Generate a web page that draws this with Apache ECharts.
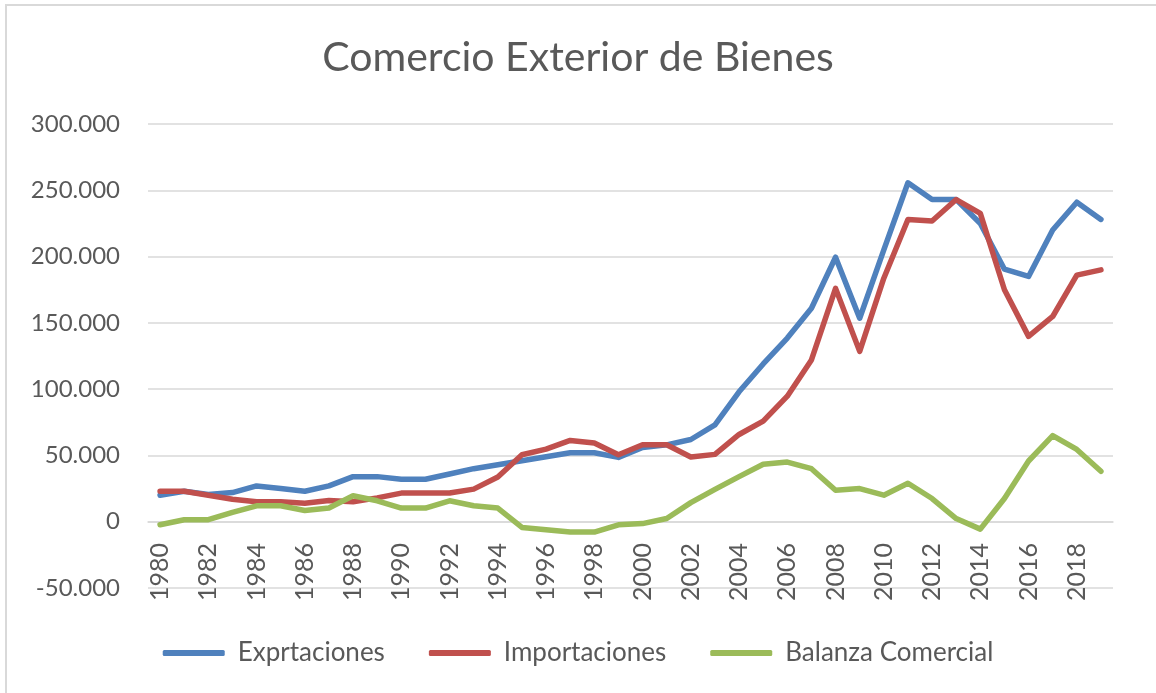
<!DOCTYPE html>
<html>
<head>
<meta charset="utf-8">
<script src="https://cdn.jsdelivr.net/npm/echarts@6/dist/echarts.min.js"></script>
<style>
  html, body { margin: 0; padding: 0; background: #fff; }
  #chart { width: 1156px; height: 693px; }
</style>
</head>
<body>
<div id="chart"></div>
<script>
// años (categorías)
var years = ['1980','1981','1982','1983','1984','1985','1986','1987','1988','1989',
  '1990','1991','1992','1993','1994','1995','1996','1997','1998','1999',
  '2000','2001','2002','2003','2004','2005','2006','2007','2008','2009',
  '2010','2011','2012','2013','2014','2015','2016','2017','2018','2019'];

var exportaciones = [20000, 23000, 20500, 22000, 27000, 25000, 23000, 27000, 34000, 34000,
  32000, 32000, 36000, 40000, 43000, 46000, 49000, 52000, 52000, 48500,
  56000, 58000, 62000, 73000, 98000, 119000, 138500, 161000, 199500, 153500,
  205000, 255700, 243000, 243000, 225000, 190500, 185000, 220000, 241000, 228000];

var importaciones = [23000, 23000, 20000, 17000, 15000, 15000, 14000, 16000, 15000, 18000,
  21600, 21600, 21600, 24600, 33700, 50500, 54800, 61300, 59300, 50500,
  58000, 58000, 48800, 50800, 65800, 75900, 94700, 122000, 176000, 128500,
  183700, 228000, 226800, 243000, 232600, 175000, 139800, 154800, 186000, 190000];

var balanza = [-2300, 1500, 1500, 7000, 12000, 12000, 8500, 10300, 19600, 15800,
  10300, 10300, 15800, 12000, 10300, -4300, -6000, -7800, -7800, -2300,
  -1400, 2400, 14400, 24400, 34000, 43300, 45000, 40000, 23700, 25000,
  20000, 29000, 17500, 2400, -5600, 17500, 45800, 65000, 54500, 38000];

var fontFam = 'Lato, "Open Sans", sans-serif';
var txtColor = '#595959';

var chart = echarts.init(document.getElementById('chart'));

function serie(name, data, color) {
  return {
    name: name,
    type: 'line',
    data: data,
    symbol: 'none',
    smooth: false,
    lineStyle: { width: 5.5, color: color, cap: 'round', join: 'round' },
    itemStyle: { color: color }
  };
}

var option = {
  animation: false,
  backgroundColor: '#fff',
  title: {
    text: 'Comercio Exterior de Bienes',
    left: 'center',
    top: 32,
    textStyle: { fontFamily: fontFam, fontSize: 41, fontWeight: 'normal', color: txtColor }
  },
  // borde del área del gráfico
  graphic: [{
    type: 'rect',
    shape: { x: 6, y: 5, width: 1170, height: 710 },
    style: { fill: 'none', stroke: '#d9d9d9', lineWidth: 2 },
    silent: true
  }],
  legend: {
    bottom: 22,
    left: 'center',
    itemWidth: 62,
    itemHeight: 6,
    itemGap: 44,
    icon: 'roundRect',
    textStyle: { fontFamily: fontFam, fontSize: 26, color: txtColor, padding: [0, 0, 0, 8] },
    data: ['Exprtaciones', 'Importaciones', 'Balanza Comercial']
  },
  grid: { left: 148, right: 43, top: 124, bottom: 105 },
  xAxis: {
    type: 'category',
    data: years,
    boundaryGap: true,
    // el eje cruza en 0: se sube desde el borde inferior
    offset: -66,
    axisLine: { onZero: false, lineStyle: { color: '#d9d9d9', width: 1.5 } },
    axisTick: { show: false },
    axisLabel: {
      interval: 1,
      rotate: 90,
      margin: 21,
      fontFamily: fontFam,
      fontSize: 25,
      color: txtColor
    }
  },
  yAxis: {
    type: 'value',
    min: -50000,
    max: 300000,
    interval: 50000,
    axisLine: { show: false },
    axisTick: { show: false },
    splitLine: { lineStyle: { color: '#d9d9d9', width: 1.5 } },
    axisLabel: {
      margin: 28,
      fontFamily: fontFam,
      fontSize: 24,
      color: txtColor,
      formatter: function (v) { return v === 0 ? '0' : (v / 1000).toFixed(3); }
    }
  },
  series: [
    serie('Exprtaciones', exportaciones, '#4F81BD'),
    serie('Importaciones', importaciones, '#C0504D'),
    serie('Balanza Comercial', balanza, '#9BBB59')
  ]
};

chart.setOption(option);
</script>
</body>
</html>
